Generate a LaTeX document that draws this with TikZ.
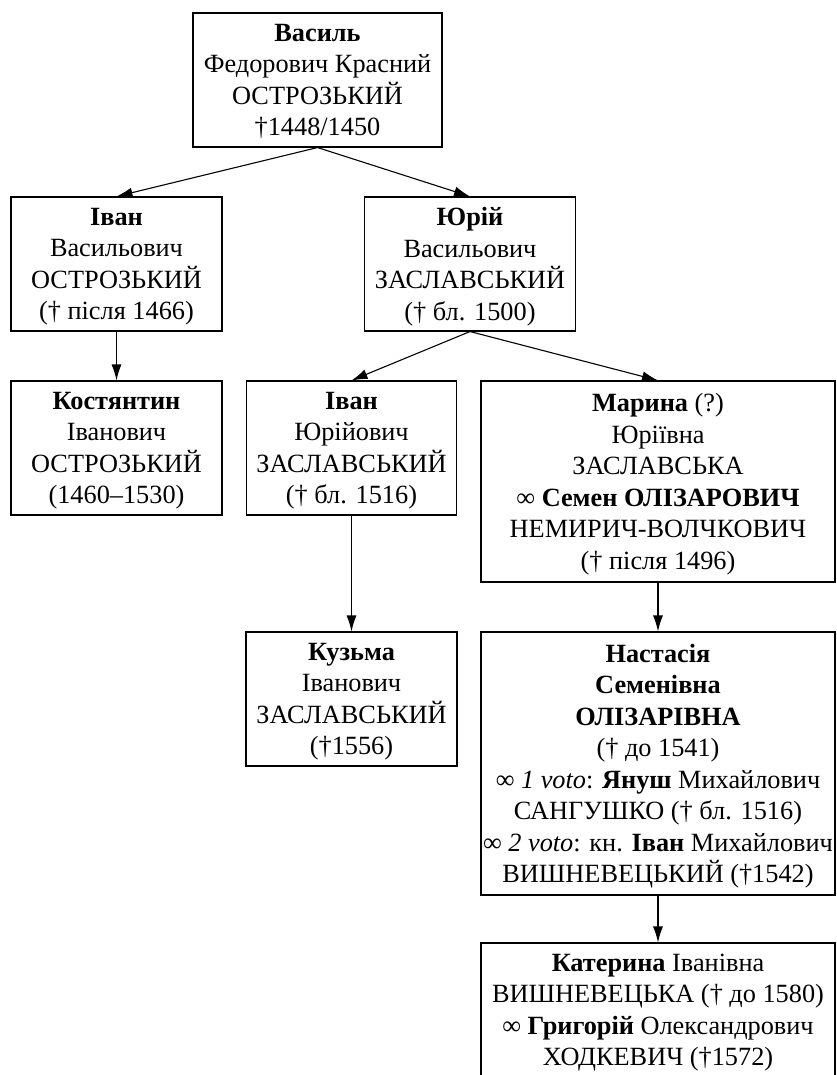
\documentclass[tikz,border=0pt]{standalone}
\usepackage{fontspec}
\setmainfont{Liberation Serif}
\usetikzlibrary{arrows.meta}
\begin{document}
\begin{tikzpicture}[x=1pt,y=-1pt,
  box/.style={draw, line width=1.1pt, rectangle, align=center, inner sep=0pt,
    text depth=-2pt, font=\fontsize{26.3}{31.5}\selectfont},
  arr/.style={-{Latex[length=16pt,width=10pt]}, line width=1.1pt}]
\useasboundingbox (0,0) rectangle (836,1075);
\clip (0,0) rectangle (836,1075);
\node[box, minimum width=249pt, minimum height=134pt] (vasyl) at (317.5,80)
  {\textbf{Василь}\\Федорович Красний\\ОСТРОЗЬКИЙ\\†1448/1450};
\node[box, minimum width=211pt, minimum height=134pt] (ivan) at (116.5,264)
  {\textbf{Іван}\\Васильович\\ОСТРОЗЬКИЙ\\(† після 1466)};
\node[box, minimum width=211pt, minimum height=134pt] (yuriy) at (470,264)
  {\textbf{Юрій}\\Васильович\\ЗАСЛАВСЬКИЙ\\(† бл. 1500)};
\node[box, minimum width=211pt, minimum height=134pt] (kost) at (116.5,448)
  {\textbf{Костянтин}\\Іванович\\ОСТРОЗЬКИЙ\\(1460–1530)};
\node[box, minimum width=210pt, minimum height=134pt] (ivanyu) at (351.5,448)
  {\textbf{Іван}\\Юрійович\\ЗАСЛАВСЬКИЙ\\(† бл. 1516)};
\node[box, minimum width=211pt, minimum height=134pt] (kuzma) at (351.5,699)
  {\textbf{Кузьма}\\Іванович\\ЗАСЛАВСЬКИЙ\\(†1556)};
\node[box, minimum width=354pt, minimum height=201pt] (maryna) at (658,481.5)
  {\textbf{Марина} (?)\\Юріївна\\ЗАСЛАВСЬКА\\∞ \textbf{Семен ОЛІЗАРОВИЧ}\\НЕМИРИЧ-ВОЛЧКОВИЧ\\(† після 1496)};
\node[box, minimum width=354pt, minimum height=263pt] (nast) at (658,763.5)
  {\textbf{Настасія}\\\textbf{Семенівна}\\\textbf{ОЛІЗАРІВНА}\\(† до 1541)\\∞ \textit{1 voto}: \textbf{Януш} Михайлович\\САНГУШКО († бл. 1516)\\∞ \textit{2 voto}: кн. \textbf{Іван} Михайлович\\ВИШНЕВЕЦЬКИЙ (†1542)};
\node[box, minimum width=354pt, minimum height=134pt] (kat) at (658,1010)
  {\textbf{Катерина} Іванівна\\ВИШНЕВЕЦЬКА († до 1580)\\∞ \textbf{Григорій} Олександрович\\ХОДКЕВИЧ (†1572)};
\draw[arr] (vasyl.south) -- (ivan.north);
\draw[arr] (vasyl.south) -- (yuriy.north);
\draw[arr] (ivan.south) -- (kost.north);
\draw[arr] (yuriy.south) -- (ivanyu.north);
\draw[arr] (yuriy.south) -- (maryna.north);
\draw[arr] (ivanyu.south) -- (kuzma.north);
\draw[arr] (maryna.south) -- (nast.north);
\draw[arr] (nast.south) -- (kat.north);
\end{tikzpicture}
\end{document}
